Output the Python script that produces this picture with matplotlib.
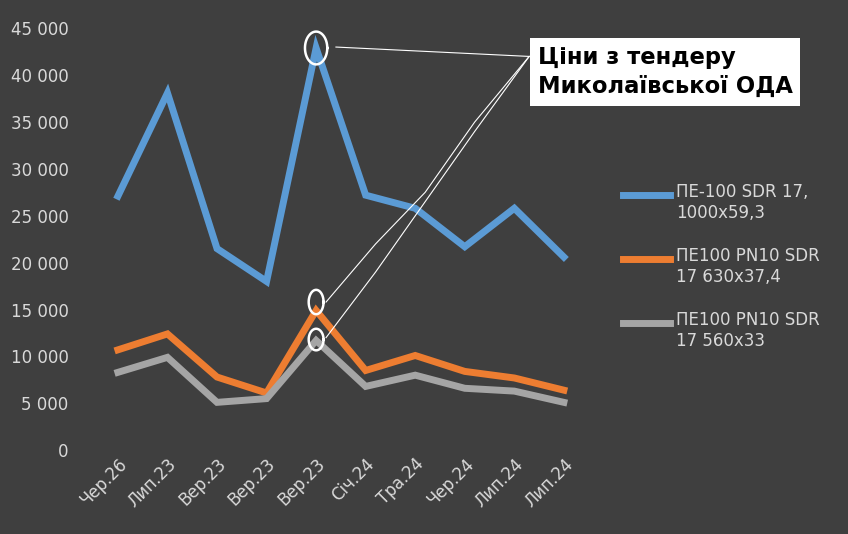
import matplotlib
matplotlib.use("Agg")
import matplotlib.pyplot as plt
import numpy as np

categories = ["Чер.26", "Лип.23", "Вер.23", "Вер.23", "Вер.23", "Січ.24", "Тра.24", "Чер.24", "Лип.24", "Лип.24"]
pe100_1000 = [27100, 38100, 21500, 18000, 42900, 27200, 25800, 21700, 25800, 20600]
pe100_630 = [10700, 12400, 7800, 6100, 14900, 8500, 10100, 8400, 7700, 6400]
pe100_560 = [8300, 9900, 5100, 5500, 11700, 6800, 8000, 6600, 6300, 5100]
labels = ["ПЕ-100 SDR 17,\n1000x59,3", "ПЕ100 PN10 SDR\n17 630x37,4", "ПЕ100 PN10 SDR\n17 560x33"]
colors = ["#5b9bd5", "#ed7d31", "#a5a5a5"]

fig = plt.figure(figsize=(8.48, 5.34), dpi=100)
fig.patch.set_facecolor("#3f3f3f")
ax = fig.add_axes([0.104, 0.157, 0.596, 0.79])
ax.set_facecolor("#3f3f3f")
x = np.arange(len(categories))
for s, c in zip([pe100_1000, pe100_630, pe100_560], colors):
    ax.plot(x, s, color=c, lw=5, solid_joinstyle="miter")
ax.set_ylim(0, 45000)
ax.set_xlim(-0.6, len(categories) - 0.4)
ax.set_yticks(range(0, 45001, 5000))
ax.set_yticklabels([f"{v:,}".replace(",", " ") for v in range(0, 45001, 5000)], color="#d9d9d9", fontsize=12)
ax.tick_params(axis="y", pad=14)
ax.set_xticks(x)
ax.set_xticklabels(categories, rotation=45, ha="right", rotation_mode="anchor", color="#d9d9d9", fontsize=12)
ax.tick_params(length=0)
for sp in ax.spines.values():
    sp.set_visible(False)

# legend
ly = [0.61, 0.49, 0.37]
for l, c, yy in zip(labels, colors, ly):
    fig.add_artist(plt.Line2D([0.735, 0.79], [yy + 0.025, yy + 0.025], color=c, lw=5))
    fig.text(0.797, yy + 0.047, l, color="#d9d9d9", fontsize=12, va="top", ha="left")

# annotation box
fig.text(0.634, 0.865, "Ціни з тендеру\nМиколаївської ОДА", fontsize=16.3, fontweight="bold",
         color="black", va="center", ha="left", linespacing=1.3,
         bbox=dict(facecolor="white", edgecolor="none", boxstyle="square,pad=0.35"))

# hand-drawn marks
for xi, yv, w, h in [(4, 42900, 0.45, 3500), (4, 15800, 0.3, 2600), (4, 11800, 0.3, 2300)]:
    t = np.linspace(0, 2 * np.pi, 60)
    ax.plot(xi + w / 2 * np.cos(t), yv + h / 2 * np.sin(t), color="white", lw=1.8, clip_on=False)
ax.plot([4.4, 8.3], [43000, 42000], color="white", lw=0.8, clip_on=False)
ax.plot([4.2, 5.2, 6.2, 7.2, 8.3], [15800, 22000, 27500, 35000, 42000], color="white", lw=0.8, clip_on=False)
ax.plot([4.2, 5.2, 6.2, 7.2, 8.3], [12000, 19000, 26500, 34000, 42000], color="white", lw=0.8, clip_on=False)

fig.savefig("out.png", dpi=100, facecolor=fig.get_facecolor())
